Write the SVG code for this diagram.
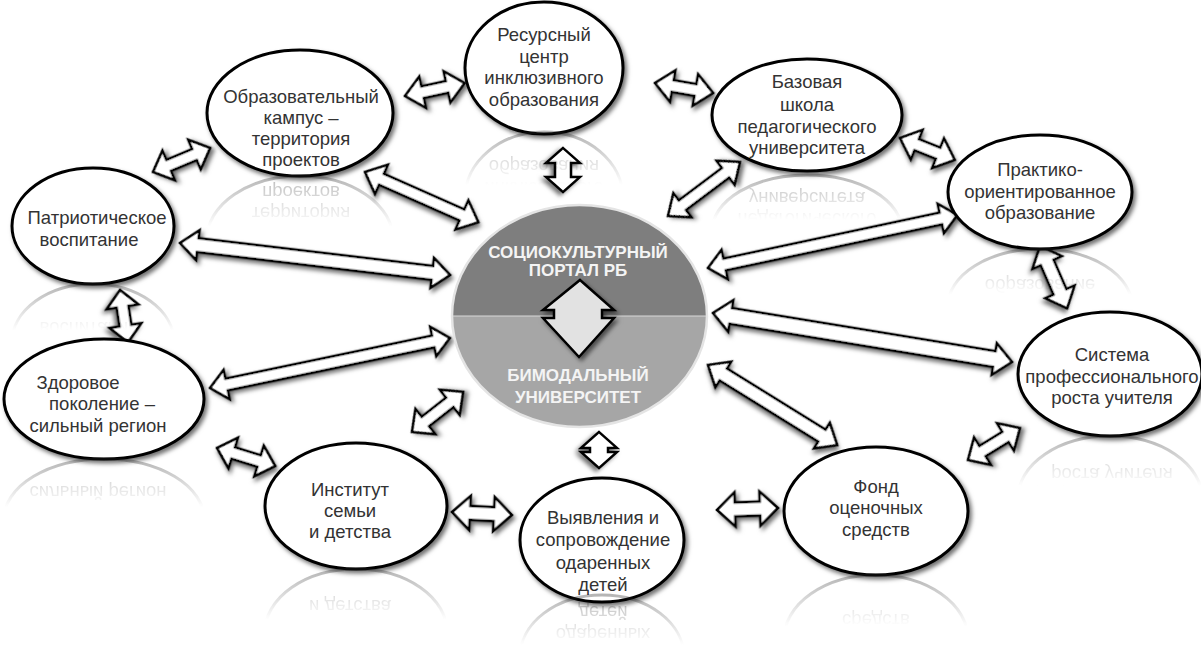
<svg xmlns="http://www.w3.org/2000/svg" width="1201" height="648" viewBox="0 0 1201 648">
<defs>
<style>
.shape{fill:#fff;stroke:#000;stroke-width:3;filter:url(#sh)}
.rshape{fill:none;stroke:#222;stroke-width:3}
.lbl{font-family:"Liberation Sans",Arial,sans-serif;font-size:18.5px;fill:#333;text-anchor:middle}
.ctr{font-family:"Liberation Sans",Arial,sans-serif;font-size:17px;font-weight:bold;fill:#f4f4f4;text-anchor:middle}
.arr{fill:#fff;stroke:#000;stroke-width:2.5;stroke-linejoin:miter;filter:url(#sh)}
</style>
<filter id="sh" x="-30%" y="-30%" width="160%" height="160%">
<feDropShadow dx="2.5" dy="3" stdDeviation="2.2" flood-color="#000" flood-opacity="0.55"/>
</filter>
<linearGradient id="fg" gradientUnits="userSpaceOnUse" x1="0" y1="0" x2="0" y2="1">
<stop offset="0" stop-color="#000"/>
<stop offset="0.6" stop-color="#000"/>
<stop offset="1" stop-color="#555"/>
</linearGradient>
<mask id="fade" maskUnits="objectBoundingBox" maskContentUnits="objectBoundingBox" x="-0.1" y="-0.1" width="1.2" height="1.3">
<rect x="-0.1" y="-0.1" width="1.2" height="1.3" fill="url(#fg)"/>
</mask>
</defs>
<rect width="1201" height="648" fill="#fff"/>

<g id="connectors">
<path class="arr" transform="translate(405 96) rotate(-12.2)" d="M0,0 L18,-16 L18,-6 L43,-6 L43,-16 L61,0 L43,16 L43,6 L18,6 L18,16 Z"/>
<path class="arr" transform="translate(153 172) rotate(-22.8)" d="M0,0 L17,-16 L17,-6 L45,-6 L45,-16 L62,0 L45,16 L45,6 L17,6 L17,16 Z"/>
<path class="arr" transform="translate(365 172) rotate(23.9)" d="M0,0 L18,-16 L18,-6 L106,-6 L106,-16 L124,0 L106,16 L106,6 L18,6 L18,16 Z"/>
<path class="arr" transform="translate(563 148) rotate(90)" d="M0,0 L15,-17 L15,-8 L29,-8 L29,-17 L44,0 L29,17 L29,8 L15,8 L15,17 Z"/>
<path class="arr" transform="translate(668 216) rotate(-36.9)" d="M0,0 L18,-15 L18,-6 L72,-6 L72,-15 L90,0 L72,15 L72,6 L18,6 L18,15 Z"/>
<path class="arr" transform="translate(655 83) rotate(9.8)" d="M0,0 L18,-16 L18,-6 L41,-6 L41,-16 L59,0 L41,16 L41,6 L18,6 L18,16 Z"/>
<path class="arr" transform="translate(900 138) rotate(21.8)" d="M0,0 L18,-16 L18,-6 L41,-6 L41,-16 L59,0 L41,16 L41,6 L18,6 L18,16 Z"/>
<path class="arr" transform="translate(708 268) rotate(-12)" d="M0,0 L17,-15 L17,-6 L238,-6 L238,-15 L255,0 L238,15 L238,6 L17,6 L17,15 Z"/>
<path class="arr" transform="translate(1040 246) rotate(66.5)" d="M0,0 L18,-16 L18,-7 L50,-7 L50,-16 L68,0 L50,16 L50,7 L18,7 L18,16 Z"/>
<path class="arr" transform="translate(713 313) rotate(9.3)" d="M0,0 L18,-16 L18,-8 L285,-8 L285,-16 L303,0 L285,16 L285,8 L18,8 L18,16 Z"/>
<path class="arr" transform="translate(708 365) rotate(31.8)" d="M0,0 L18,-15 L18,-7 L134,-7 L134,-15 L152,0 L134,15 L134,7 L18,7 L18,15 Z"/>
<path class="arr" transform="translate(968 460) rotate(-31.6)" d="M0,0 L17,-16 L17,-6 L44,-6 L44,-16 L61,0 L44,16 L44,6 L17,6 L17,16 Z"/>
<path class="arr" transform="translate(717 510) rotate(-1.9)" d="M0,0 L18,-17 L18,-7 L43,-7 L43,-17 L61,0 L43,17 L43,7 L18,7 L18,17 Z"/>
<path class="arr" transform="translate(452 512) rotate(2.9)" d="M0,0 L18,-17 L18,-7 L42,-7 L42,-17 L60,0 L42,17 L42,7 L18,7 L18,17 Z"/>
<path class="arr" transform="translate(599 432) rotate(90)" d="M0,0 L16,-18 L16,-9 L20,-9 L20,-18 L36,0 L20,18 L20,9 L16,9 L16,18 Z"/>
<path class="arr" transform="translate(412 432) rotate(-38.1)" d="M0,0 L17,-16 L17,-6 L48,-6 L48,-16 L65,0 L48,16 L48,6 L17,6 L17,16 Z"/>
<path class="arr" transform="translate(217 448) rotate(17.2)" d="M0,0 L17,-16 L17,-6 L44,-6 L44,-16 L61,0 L44,16 L44,6 L17,6 L17,16 Z"/>
<path class="arr" transform="translate(210 388) rotate(-11.77)" d="M0,0 L17,-15 L17,-6 L228,-6 L228,-15 L245,0 L228,15 L228,6 L17,6 L17,15 Z"/>
<path class="arr" transform="translate(180 243) rotate(6.76)" d="M0,0 L18,-15 L18,-7 L254,-7 L254,-15 L272,0 L254,15 L254,7 L18,7 L18,15 Z"/>
<path class="arr" transform="translate(120 290) rotate(81.3)" d="M0,0 L17,-16 L17,-6 L36,-6 L36,-16 L53,0 L36,16 L36,6 L17,6 L17,16 Z"/>
</g>

<g id="center">
<path d="M452,316 A127.5,111 0 0 1 707,316 Z" fill="#7e7e7e"/>
<path d="M452,316 A127.5,111 0 0 0 707,316 Z" fill="#a6a6a6"/>
<line x1="452" y1="316" x2="707" y2="316" stroke="#d8d8d8" stroke-width="1.2"/>
<ellipse cx="579.5" cy="316" rx="127.5" ry="111" fill="none" stroke="#e4e4e4" stroke-width="2.5"/>
<text class="ctr" x="578" y="258">СОЦИОКУЛЬТУРНЫЙ</text>
<text class="ctr" x="578" y="276">ПОРТАЛ РБ</text>
<text class="ctr" x="578" y="381">БИМОДАЛЬНЫЙ</text>
<text class="ctr" x="578" y="403">УНИВЕРСИТЕТ</text>
<path class="arr" style="fill:#e2e2e2" d="M580,280 L614,310 L602,310 L602,318 L614,318 L579,357 L543,318 L554,318 L554,310 L543,310 Z"/>
</g>

<g id="n-kampus">
<ellipse class="shape" cx="300" cy="113" rx="93" ry="63"/>
<text class="lbl" x="301" y="103">Образовательный</text>
<text class="lbl" x="301" y="124">кампус –</text>
<text class="lbl" x="301" y="145">территория</text>
<text class="lbl" x="301" y="166">проектов</text>
<g transform="translate(0 352) scale(1 -1)" mask="url(#fade)">
<ellipse class="rshape" cx="300" cy="113" rx="93" ry="63"/>
<text class="lbl" x="301" y="145">территория</text>
<text class="lbl" x="301" y="166">проектов</text>
</g>
</g>

<g id="n-resurs">
<ellipse class="shape" cx="544" cy="68" rx="79" ry="66"/>
<text class="lbl" x="544" y="41">Ресурсный</text>
<text class="lbl" x="544" y="63">центр</text>
<text class="lbl" x="544" y="84">инклюзивного</text>
<text class="lbl" x="544" y="106">образования</text>
<g transform="translate(0 266) scale(1 -1)" mask="url(#fade)">
<ellipse class="rshape" cx="544" cy="68" rx="79" ry="66"/>
<text class="lbl" x="544" y="84">инклюзивного</text>
<text class="lbl" x="544" y="106">образования</text>
</g>
</g>

<g id="n-bazovaya">
<ellipse class="shape" cx="807" cy="115" rx="95" ry="56"/>
<text class="lbl" x="807" y="88">Базовая</text>
<text class="lbl" x="807" y="111">школа</text>
<text class="lbl" x="807" y="133">педагогического</text>
<text class="lbl" x="807" y="154">университета</text>
<g transform="translate(0 346) scale(1 -1)" mask="url(#fade)">
<ellipse class="rshape" cx="807" cy="115" rx="95" ry="56"/>
<text class="lbl" x="807" y="133">педагогического</text>
<text class="lbl" x="807" y="154">университета</text>
</g>
</g>

<g id="n-praktiko">
<ellipse class="shape" cx="1040" cy="192" rx="92" ry="57"/>
<text class="lbl" x="1040" y="176">Практико-</text>
<text class="lbl" x="1040" y="198">ориентированное</text>
<text class="lbl" x="1040" y="219">образование</text>
<g transform="translate(0 498) scale(1 -1)" mask="url(#fade)">
<ellipse class="rshape" cx="1040" cy="192" rx="92" ry="57"/>
<text class="lbl" x="1040" y="198">ориентированное</text>
<text class="lbl" x="1040" y="219">образование</text>
</g>
</g>

<g id="n-sistema">
<ellipse class="shape" cx="1110" cy="374" rx="92" ry="62"/>
<text class="lbl" x="1112" y="361">Система</text>
<text class="lbl" x="1112" y="383">профессионального</text>
<text class="lbl" x="1112" y="404">роста учителя</text>
<g transform="translate(0 872) scale(1 -1)" mask="url(#fade)">
<ellipse class="rshape" cx="1110" cy="374" rx="92" ry="62"/>
<text class="lbl" x="1112" y="383">профессионального</text>
<text class="lbl" x="1112" y="404">роста учителя</text>
</g>
</g>

<g id="n-fond">
<ellipse class="shape" cx="876" cy="511" rx="92" ry="64"/>
<text class="lbl" x="876" y="493">Фонд</text>
<text class="lbl" x="876" y="514">оценочных</text>
<text class="lbl" x="876" y="536">средств</text>
<g transform="translate(0 1150) scale(1 -1)" mask="url(#fade)">
<ellipse class="rshape" cx="876" cy="511" rx="92" ry="64"/>
<text class="lbl" x="876" y="536">средств</text>
</g>
</g>

<g id="n-vyyavleniya">
<ellipse class="shape" cx="602" cy="540" rx="82" ry="62"/>
<text class="lbl" x="603" y="524">Выявления и</text>
<text class="lbl" x="603" y="546">сопровождение</text>
<text class="lbl" x="603" y="569">одаренных</text>
<text class="lbl" x="603" y="591">детей</text>
<g transform="translate(0 1197) scale(1 -1)" mask="url(#fade)">
<ellipse class="rshape" cx="602" cy="540" rx="82" ry="62"/>
<text class="lbl" x="603" y="569">одаренных</text>
<text class="lbl" x="603" y="591">детей</text>
</g>
</g>

<g id="n-institut">
<ellipse class="shape" cx="356" cy="506" rx="91" ry="63"/>
<text class="lbl" x="350" y="496">Институт</text>
<text class="lbl" x="350" y="517">семьи</text>
<text class="lbl" x="350" y="538">и детства</text>
<g transform="translate(0 1138) scale(1 -1)" mask="url(#fade)">
<ellipse class="rshape" cx="356" cy="506" rx="91" ry="63"/>
<text class="lbl" x="350" y="538">и детства</text>
</g>
</g>

<g id="n-zdorovoe">
<ellipse class="shape" cx="104" cy="399" rx="100" ry="60"/>
<text class="lbl" x="78" y="389">Здоровое</text>
<text class="lbl" x="102" y="410">поколение –</text>
<text class="lbl" x="98" y="432">сильный регион</text>
<g transform="translate(0 918) scale(1 -1)" mask="url(#fade)">
<ellipse class="rshape" cx="104" cy="399" rx="100" ry="60"/>
<text class="lbl" x="98" y="432">сильный регион</text>
</g>
</g>

<g id="n-patriot">
<ellipse class="shape" cx="93" cy="226" rx="81" ry="58"/>
<text class="lbl" x="97" y="224">Патриотическое</text>
<text class="lbl" x="89" y="246">воспитание</text>
<g transform="translate(0 568) scale(1 -1)" mask="url(#fade)">
<ellipse class="rshape" cx="93" cy="226" rx="81" ry="58"/>
<text class="lbl" x="89" y="246">воспитание</text>
</g>
</g>
</svg>
